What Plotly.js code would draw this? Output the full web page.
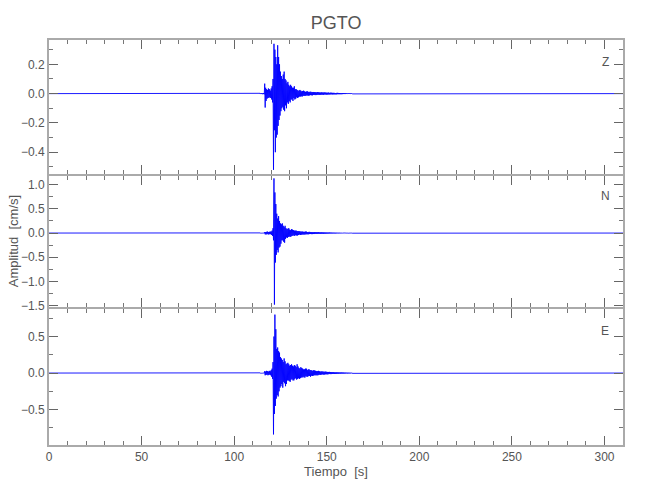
<!DOCTYPE html>
<html>
<head>
<meta charset="utf-8">
<script src="https://cdn.plot.ly/plotly-3.0.1.min.js"></script>
<style>html,body{margin:0;padding:0;background:#fff;}#chart{width:650px;height:500px;}</style>
</head>
<body>
<div id="chart"></div>
<script>
// Station and component labels
const station = "PGTO";
const components = ["Z", "N", "E"];
// Sampling of the displayed window (s)
const tStart = 114;
const dt = 0.25;
const tEnd = 310;

// Z component amplitudes (cm/s), 4 samples per second from 114 s
const ampZ = [
  0.002,-0.003,0.003,-0.002,
  0.003,-0.004,0.002,-0.003,
  0.004,-0.005,0.068,-0.095,
  0.04,-0.05,0.03,-0.035,
  0.025,-0.03,0.035,-0.028,
  0.03,-0.025,0.02,-0.03,
  0.035,-0.04,0.05,-0.06,
  0.1,-0.52,0.34,-0.25,
  0.3,-0.4,0.25,-0.3,
  0.2,-0.28,0.33,-0.22,
  0.25,-0.18,0.2,-0.15,
  0.15,-0.12,0.12,-0.1,
  0.1,-0.09,0.13,-0.11,
  0.15,-0.12,0.1,-0.08,
  0.09,-0.1,0.07,-0.06,
  0.08,-0.07,0.06,-0.05,
  0.05,-0.06,0.06,-0.04,
  0.05,-0.04,0.04,-0.05,
  0.04,-0.03,0.05,-0.04,
  0.03,-0.035,0.03,-0.025,
  0.025,-0.03,0.02,-0.025,
  0.02,-0.02,0.025,-0.02,
  0.02,-0.018,0.015,-0.02,
  0.018,-0.015,0.02,-0.015,
  0.015,-0.016,0.012,-0.014,
  0.014,-0.012,0.016,-0.013,
  0.012,-0.014,0.011,-0.012,
  0.013,-0.01,0.012,-0.011,
  0.01,-0.012,0.011,-0.009,
  0.011,-0.009,0.01,-0.01,
  0.009,-0.01,0.008,-0.009,
  0.01,-0.008,0.009,-0.008,
  0.008,-0.009,0.007,-0.008,
  0.009,-0.007,0.008,-0.007,
  0.007,-0.008,0.008,-0.006,
  0.008,-0.006,0.007,-0.007,
  0.006,-0.007,0.006,-0.006,
  0.007,-0.006,0.005,-0.006,
  0.006,-0.005,0.006,-0.005,
  0.005,-0.006,0.005,-0.005,
  0.005,-0.005,0.004,-0.005,
  0.004,-0.005,0.005,-0.004,
  0.005,-0.004,0.004,-0.004,
  0.004,-0.004,0.003,-0.004,
  0.003,-0.004,0.004,-0.003,
  0.004,-0.003,0.003,-0.003,
  0.003,-0.003,0.003,-0.002,
  0.002,-0.003,0.002,-0.002,
  0.003,-0.002,0.002,-0.003,
  0.002,-0.002,0.002,-0.002
];

// N component amplitudes (cm/s)
const ampN = [
  0.003,-0.002,0.002,-0.003,
  0.002,-0.003,0.003,-0.002,
  0.003,-0.004,0.02,-0.025,
  0.02,-0.03,0.025,-0.02,
  0.03,-0.025,0.02,-0.03,
  0.025,-0.02,0.03,-0.025,
  0.03,-0.04,0.05,-0.06,
  0.1,-0.15,1.13,-1.48,
  0.84,-0.61,0.6,-0.45,
  0.4,-0.35,0.3,-0.4,
  0.35,-0.3,0.25,-0.28,
  0.2,-0.22,0.18,-0.15,
  0.2,-0.15,0.15,-0.18,
  0.12,-0.2,0.15,-0.12,
  0.1,-0.09,0.08,-0.1,
  0.09,-0.08,0.1,-0.07,
  0.07,-0.08,0.06,-0.07,
  0.08,-0.06,0.07,-0.05,
  0.06,-0.05,0.05,-0.06,
  0.05,-0.04,0.05,-0.05,
  0.04,-0.05,0.04,-0.04,
  0.04,-0.03,0.035,-0.04,
  0.03,-0.035,0.03,-0.03,
  0.03,-0.03,0.025,-0.03,
  0.025,-0.03,0.03,-0.025,
  0.03,-0.025,0.02,-0.025,
  0.02,-0.025,0.025,-0.02,
  0.022,-0.02,0.02,-0.022,
  0.02,-0.022,0.018,-0.02,
  0.018,-0.02,0.02,-0.017,
  0.017,-0.018,0.016,-0.018,
  0.016,-0.017,0.018,-0.015,
  0.015,-0.016,0.014,-0.016,
  0.016,-0.014,0.015,-0.013,
  0.013,-0.015,0.014,-0.012,
  0.012,-0.013,0.012,-0.012,
  0.011,-0.012,0.01,-0.011,
  0.01,-0.011,0.011,-0.009,
  0.009,-0.01,0.009,-0.009,
  0.008,-0.009,0.008,-0.008,
  0.008,-0.008,0.007,-0.008,
  0.007,-0.007,0.007,-0.006,
  0.006,-0.007,0.006,-0.006,
  0.006,-0.006,0.005,-0.006,
  0.005,-0.005,0.005,-0.005,
  0.005,-0.004,0.004,-0.005,
  0.004,-0.004,0.004,-0.004,
  0.004,-0.003,0.003,-0.004,
  0.003,-0.003,0.003,-0.003,
  0.003,-0.003,0.002,-0.003
];

// E component amplitudes (cm/s)
const ampE = [
  0.003,-0.002,0.003,-0.003,
  0.002,-0.003,0.002,-0.002,
  0.003,-0.003,0.025,-0.03,
  0.02,-0.025,0.03,-0.02,
  0.025,-0.03,0.02,-0.025,
  0.03,-0.02,0.025,-0.03,
  0.04,-0.05,0.06,-0.08,
  0.15,-0.84,0.5,-0.56,
  0.8,-0.45,0.6,-0.35,
  0.33,-0.3,0.35,-0.32,
  0.3,-0.25,0.28,-0.2,
  0.22,-0.18,0.2,-0.15,
  0.18,-0.2,0.15,-0.12,
  0.2,-0.14,0.16,-0.18,
  0.12,-0.15,0.13,-0.1,
  0.14,-0.1,0.12,-0.11,
  0.1,-0.12,0.11,-0.09,
  0.12,-0.08,0.1,-0.1,
  0.09,-0.1,0.11,-0.08,
  0.1,-0.07,0.08,-0.09,
  0.12,-0.08,0.09,-0.07,
  0.07,-0.08,0.06,-0.07,
  0.08,-0.06,0.07,-0.06,
  0.06,-0.05,0.05,-0.06,
  0.05,-0.06,0.06,-0.04,
  0.06,-0.05,0.04,-0.05,
  0.05,-0.04,0.05,-0.04,
  0.04,-0.05,0.04,-0.035,
  0.035,-0.04,0.03,-0.035,
  0.04,-0.03,0.035,-0.03,
  0.03,-0.03,0.025,-0.03,
  0.025,-0.03,0.03,-0.025,
  0.025,-0.022,0.02,-0.025,
  0.022,-0.02,0.022,-0.018,
  0.02,-0.02,0.018,-0.02,
  0.018,-0.017,0.02,-0.016,
  0.016,-0.018,0.015,-0.016,
  0.015,-0.014,0.016,-0.013,
  0.013,-0.015,0.012,-0.013,
  0.012,-0.012,0.013,-0.011,
  0.011,-0.012,0.01,-0.011,
  0.01,-0.01,0.011,-0.009,
  0.009,-0.01,0.009,-0.008,
  0.008,-0.009,0.008,-0.008,
  0.008,-0.007,0.007,-0.008,
  0.007,-0.007,0.006,-0.007,
  0.006,-0.006,0.006,-0.005,
  0.005,-0.006,0.005,-0.005,
  0.005,-0.005,0.004,-0.005,
  0.004,-0.004,0.004,-0.004
];

// X tick labels
const xTicks = [0, 50, 100, 150, 200, 250, 300];

function buildTime(n) {
  const t = [0];
  for (let i = 0; i < n; i++) t.push(tStart + i * dt);
  t.push(tEnd);
  return t;
}
function pad(a) { return [0].concat(a).concat([0]); }

const FONT = "'Liberation Sans', 'Arimo', sans-serif";
const TXT = "#555555";
const LINE = "#aaaaaa";

const mk = (amp, xa, ya) => ({
  x: buildTime(amp.length), y: pad(amp), xaxis: xa, yaxis: ya,
  type: "scatter", mode: "lines",
  line: {color: "#0000ff", width: 0.9, simplify: false}, hoverinfo: "skip", showlegend: false
});

const data = [mk(ampZ, "x3", "y"), mk(ampN, "x2", "y2"), mk(ampE, "x", "y3")];

const xBase = (anchor, labels) => ({
  anchor: anchor, range: [0, 310], showline: true, linecolor: LINE, linewidth: 2,
  mirror: "ticks", ticks: "inside", ticklen: 9, tickwidth: 1, tickcolor: "#666",
  tickvals: xTicks, ticktext: xTicks.map(String), showticklabels: labels,
  minor: {ticks: "inside", ticklen: 4, tickwidth: 1, tickcolor: "#777", dtick: 10, showgrid: false},
  showgrid: false, zeroline: false,
  tickfont: {family: FONT, size: 12, color: TXT}, fixedrange: true
});
const yBase = (domain, range, d, anchor) => ({
  domain: domain, range: range, anchor: anchor, showline: true, linecolor: LINE, linewidth: 2,
  mirror: "ticks", ticks: "inside", ticklen: 9, tickwidth: 1, tickcolor: "#666",
  tick0: 0, dtick: d, tickformat: ".1f",
  minor: {ticks: "inside", ticklen: 4, tickwidth: 1, tickcolor: "#777", dtick: d / 2, showgrid: false},
  showgrid: false, zeroline: false,
  tickfont: {family: FONT, size: 12, color: TXT}, fixedrange: true
});

const layout = {
  width: 650, height: 500,
  margin: {l: 49, r: 27, t: 40, b: 55},
  paper_bgcolor: "#ffffff", plot_bgcolor: "#ffffff",
  title: {text: station, x: 0.517, xanchor: "center", y: 0.955, yanchor: "middle",
          font: {family: FONT, size: 18, color: TXT}},
  xaxis: Object.assign(xBase("y3", true), {
    title: {text: "Tiempo  [s]", font: {family: FONT, size: 13, color: TXT}, standoff: 2}
  }),
  xaxis2: xBase("y2", false),
  xaxis3: xBase("y", false),
  yaxis: yBase([0.6691, 1], [-0.549, 0.366], 0.2, "x3"),
  yaxis2: yBase([0.3407, 0.6642], [-1.53, 1.18], 0.5, "x2"),
  yaxis3: yBase([0, 0.3358], [-0.985, 0.877], 0.5, "x"),
  annotations: [
    {text: "Amplitud  [cm/s]", xref: "paper", yref: "paper", x: -0.062, y: 0.504,
     xanchor: "center", yanchor: "middle", textangle: -90, showarrow: false,
     font: {family: FONT, size: 13, color: TXT}},
    {text: components[0], xref: "paper", yref: "paper", x: 0.969, y: 0.946,
     xanchor: "center", yanchor: "middle", showarrow: false, font: {family: FONT, size: 12, color: TXT}},
    {text: components[1], xref: "paper", yref: "paper", x: 0.969, y: 0.615,
     xanchor: "center", yanchor: "middle", showarrow: false, font: {family: FONT, size: 12, color: TXT}},
    {text: components[2], xref: "paper", yref: "paper", x: 0.969, y: 0.281,
     xanchor: "center", yanchor: "middle", showarrow: false, font: {family: FONT, size: 12, color: TXT}}
  ]
};

Plotly.newPlot("chart", data, layout, {staticPlot: true, displayModeBar: false});
</script>
</body>
</html>
